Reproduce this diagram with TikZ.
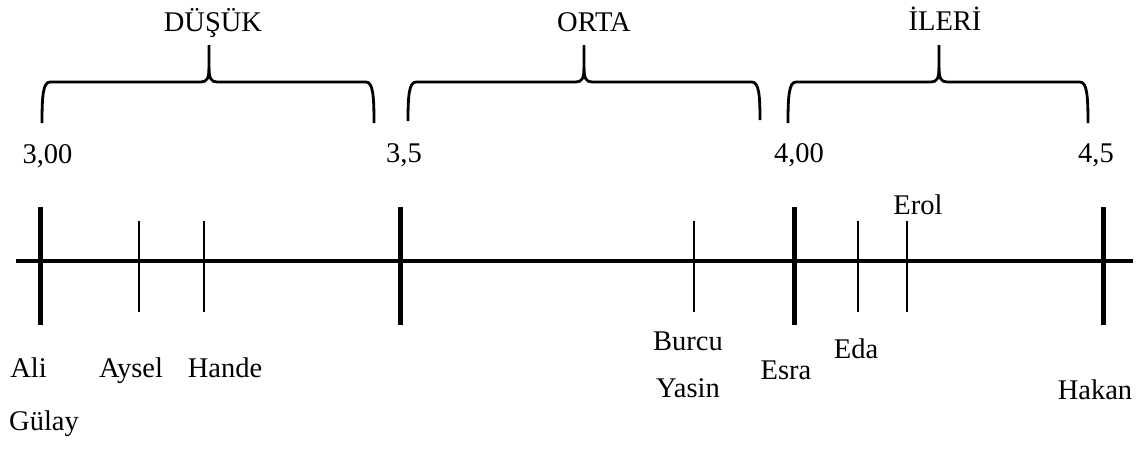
\documentclass[tikz,border=0pt]{standalone}
\usepackage{fontspec}
\setmainfont{Liberation Serif}
\begin{document}
\begin{tikzpicture}[x=1pt,y=-1pt,
  axis/.style={line width=4pt},
  major/.style={line width=5pt},
  minor/.style={line width=2pt},
  brace/.style={line width=2.8pt, line join=round},
  lbl/.style={anchor=base, inner sep=0pt, font=\fontsize{28.5}{34}\selectfont}]
\useasboundingbox (0,0) rectangle (1141,451);

% number line
\coordinate (L) at (16,261);
\coordinate (R) at (1133,261);
\draw[axis] (L) -- (R);

% scale ticks
\foreach \n/\x in {t300/40, t350/400, t400/794, t450/1103}{
  \coordinate (\n top) at (\x,207);
  \coordinate (\n bot) at (\x,325);
  \draw[major] (\n top) -- (\n bot);
}
% student ticks
\foreach \n/\x in {aysel/139, hande/204, burcu/694, eda/858, erol/907}{
  \coordinate (\n top) at (\x,221);
  \coordinate (\n bot) at (\x,312);
  \draw[minor] (\n top) -- (\n bot);
}

% braces: left x, left foot, tip x, right x, right foot
\foreach \a/\ya/\m/\b/\yb in {42/123/209/374/123, 408/121/584/760/120, 788/123/939/1088/123}{
  \draw[brace] (\a,\ya)
     .. controls (\a,96) and (\a+1,82) .. (\a+8,82)
     -- (\m-8,82)
     .. controls (\m-2,82) and (\m,78) .. (\m,68)
     -- (\m,45);
  \draw[brace] (\m,68)
     .. controls (\m,78) and (\m+2,82) .. (\m+8,82)
     -- (\b-8,82)
     .. controls (\b-1,82) and (\b,96) .. (\b,\yb);
}

% level titles
\node[lbl] (dusuk) at (213,31) {DÜŞÜK};
\node[lbl] (orta)  at (594,31) {ORTA};
\node[lbl] (ileri) at (945,30) {İLERİ};

% scale values
\node[lbl] (v300) at (47.5,163) {3,00};
\node[lbl] (v350) at (404,162) {3,5};
\node[lbl] (v400) at (799,162) {4,00};
\node[lbl] (v450) at (1096,162) {4,5};

% names
\node[lbl] (ali)   at (28.5,377) {Ali};
\node[lbl] (gulay) at (44,430) {Gülay};
\node[lbl] (aysel) at (131,377) {Aysel};
\node[lbl] (handen) at (225,377) {Hande};
\node[lbl] (burcun) at (688,350) {Burcu};
\node[lbl] (yasin) at (688,397) {Yasin};
\node[lbl] (esra)  at (786,379) {Esra};
\node[lbl] (edan)   at (856,358) {Eda};
\node[lbl] (eroln)  at (918,214) {Erol};
\node[lbl] (hakan) at (1095,399) {Hakan};
\end{tikzpicture}
\end{document}
